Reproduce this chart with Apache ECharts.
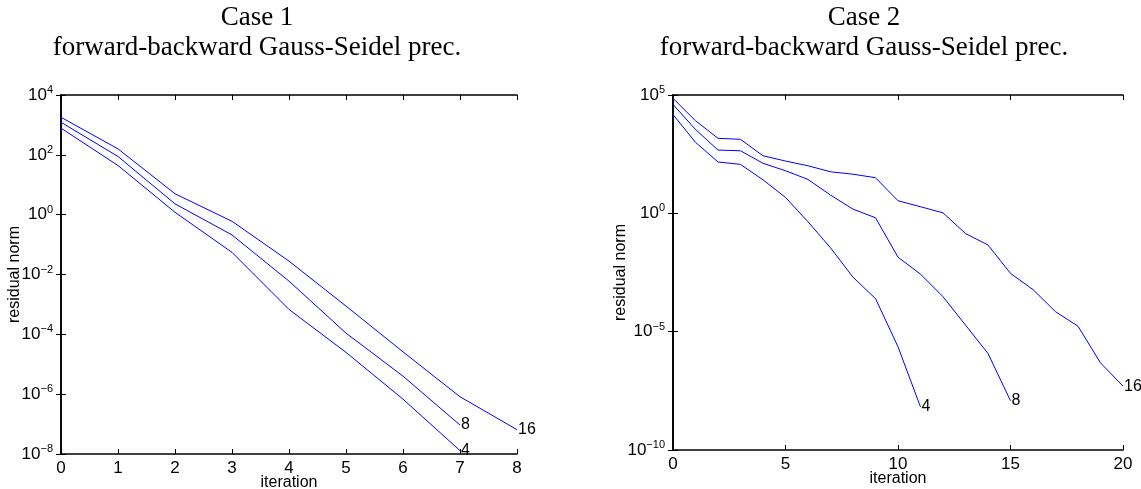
<!DOCTYPE html>
<html><head><meta charset="utf-8">
<script src="https://cdn.jsdelivr.net/npm/echarts@6/dist/echarts.min.js"></script>
<style>html,body{margin:0;padding:0;background:#fff}#c{width:1141px;height:489px}</style>
</head><body><div id="c"></div>
<script>
// ---- data ----
const titles = ['Case 1', 'Case 2'];
const subtitle = 'forward-backward Gauss-Seidel prec.';
const xName = 'iteration';
const yName = 'residual norm';
const curveLabels = ['4', '8', '16'];

const case1Iter = [0, 1, 2, 3, 4, 5, 6, 7, 8];
const case1_4  = [780, 44, 1.2, 0.055, 6.8e-4, 2.5e-5, 6.8e-7, 1.3e-8];
const case1_8  = [1230, 88, 2.3, 0.21, 0.006, 1.1e-4, 4e-6, 9.3e-8];
const case1_16 = [1800, 158, 5, 0.6, 0.028, 8.8e-4, 2.6e-5, 8.2e-7, 6.5e-8];

const case2Iter = [0,1,2,3,4,5,6,7,8,9,10,11,12,13,14,15,16,17,18,19,20];
const case2_4  = [1.5e4, 1000, 148, 117, 26, 4.7, 0.44, 0.035, 0.002, 2.5e-4, 2.3e-6, 6.6e-9];
const case2_8  = [4e4, 3500, 470, 440, 130, 63, 27, 5.9, 1.5, 0.65, 0.014, 0.0027, 3e-4, 1.9e-5, 1.2e-6, 1.2e-8];
const case2_16 = [7.2e4, 8200, 1480, 1340, 270, 162, 102, 57, 45, 32, 3.4, 1.9, 1.05, 0.14, 0.046, 0.0029, 6e-4, 7e-5, 1.7e-5, 4.8e-7, 5e-8];

const case1X = {min: 0, max: 8, interval: 1};
const case2X = {min: 0, max: 20, interval: 5};
const case1Y = {min: 1e-8, max: 1e4, interval: 2};
const case2Y = {min: 1e-10, max: 1e5, interval: 5};

// ---- build ----
const chart = echarts.init(document.getElementById('c'), null, {renderer: 'canvas'});
const SANS = '"Liberation Sans", Arial, Helvetica, sans-serif';
const SERIF = '"Liberation Serif", "Times New Roman", serif';
const BLUE = '#0000ff';
const axisLineStyle = {color: '#000', width: 1.6};

function expLabel(v) {
  const e = Math.round(Math.log10(v));
  return '{b|10}{s|' + (e < 0 ? '\u2212' + (-e) : e) + '}';
}
const richY = {
  b: {fontSize: 17, fontFamily: SANS, color: '#000'},
  s: {fontSize: 11, fontFamily: SANS, color: '#000', verticalAlign: 'bottom', padding: [0, 0, 10, 0]}
};

function xAxes(gi, xr, gap) {
  return [
    {type: 'value', gridIndex: gi, position: 'bottom', min: xr.min, max: xr.max, interval: xr.interval,
     name: xName, nameLocation: 'middle', nameGap: gap, nameMoveOverlap: false,
     nameTextStyle: {fontFamily: SANS, fontSize: 16, color: '#000'},
     axisLine: {show: true, lineStyle: axisLineStyle},
     axisTick: {show: true, inside: true, length: 5, lineStyle: {color: '#000'}},
     axisLabel: {fontFamily: SANS, fontSize: 17, color: '#000', margin: 6},
     splitLine: {show: false}},
    {type: 'value', gridIndex: gi, position: 'top', min: xr.min, max: xr.max, interval: xr.interval,
     axisLine: {show: true, lineStyle: axisLineStyle},
     axisTick: {show: true, inside: true, length: 5, lineStyle: {color: '#000'}},
     axisLabel: {show: false}, splitLine: {show: false}}
  ];
}
function yAxes(gi, yr, gap) {
  return [
    {type: 'log', logBase: 10, gridIndex: gi, position: 'left', min: yr.min, max: yr.max, interval: yr.interval,
     name: yName, nameLocation: 'middle', nameGap: gap, nameRotate: 90, nameMoveOverlap: false,
     nameTextStyle: {fontFamily: SANS, fontSize: 16, color: '#000'},
     axisLine: {show: true, lineStyle: axisLineStyle},
     axisTick: {show: true, inside: true, length: 5, lineStyle: {color: '#000'}},
     axisLabel: {formatter: expLabel, rich: richY, margin: 8},
     minorTick: {show: false}, splitLine: {show: false}},
    {type: 'log', logBase: 10, gridIndex: gi, position: 'right', min: yr.min, max: yr.max, interval: yr.interval,
     axisLine: {show: true, lineStyle: axisLineStyle},
     axisTick: {show: true, inside: true, length: 5, lineStyle: {color: '#000'}},
     axisLabel: {show: false}, splitLine: {show: false}}
  ];
}
function mkSeries(xi, yi, iters, vals, lbl) {
  return {
    type: 'line', xAxisIndex: xi, yAxisIndex: yi,
    data: vals.map((v, i) => [iters[i], v]),
    showSymbol: false, symbol: 'none', animation: false,
    lineStyle: {color: BLUE, width: 1}, itemStyle: {color: BLUE},
    endLabel: {show: true, formatter: lbl, distance: 1, fontFamily: SANS, fontSize: 16, color: '#000'}
  };
}

const option = {
  backgroundColor: '#fff',
  animation: false,
  title: [
    {text: titles[0] + '\n' + subtitle, left: 252, top: -2, textAlign: 'center',
     textStyle: {fontFamily: SERIF, fontSize: 27, fontWeight: 'normal', color: '#000', lineHeight: 30}},
    {text: titles[1] + '\n' + subtitle, left: 859, top: -2, textAlign: 'center',
     textStyle: {fontFamily: SERIF, fontSize: 27, fontWeight: 'normal', color: '#000', lineHeight: 30}}
  ],
  grid: [
    {left: 61, top: 95, width: 456, height: 359, containLabel: false, outerBoundsMode: 'none'},
    {left: 673, top: 95, width: 450, height: 355, containLabel: false, outerBoundsMode: 'none'}
  ],
  xAxis: [...xAxes(0, case1X, 21), ...xAxes(1, case2X, 21)],
  yAxis: [...yAxes(0, case1Y, 38), ...yAxes(1, case2Y, 44)],
  series: [
    mkSeries(0, 0, case1Iter, case1_4, curveLabels[0]),
    mkSeries(0, 0, case1Iter, case1_8, curveLabels[1]),
    mkSeries(0, 0, case1Iter, case1_16, curveLabels[2]),
    mkSeries(2, 2, case2Iter, case2_4, curveLabels[0]),
    mkSeries(2, 2, case2Iter, case2_8, curveLabels[1]),
    mkSeries(2, 2, case2Iter, case2_16, curveLabels[2])
  ]
};
chart.setOption(option);
</script>
</body></html>
